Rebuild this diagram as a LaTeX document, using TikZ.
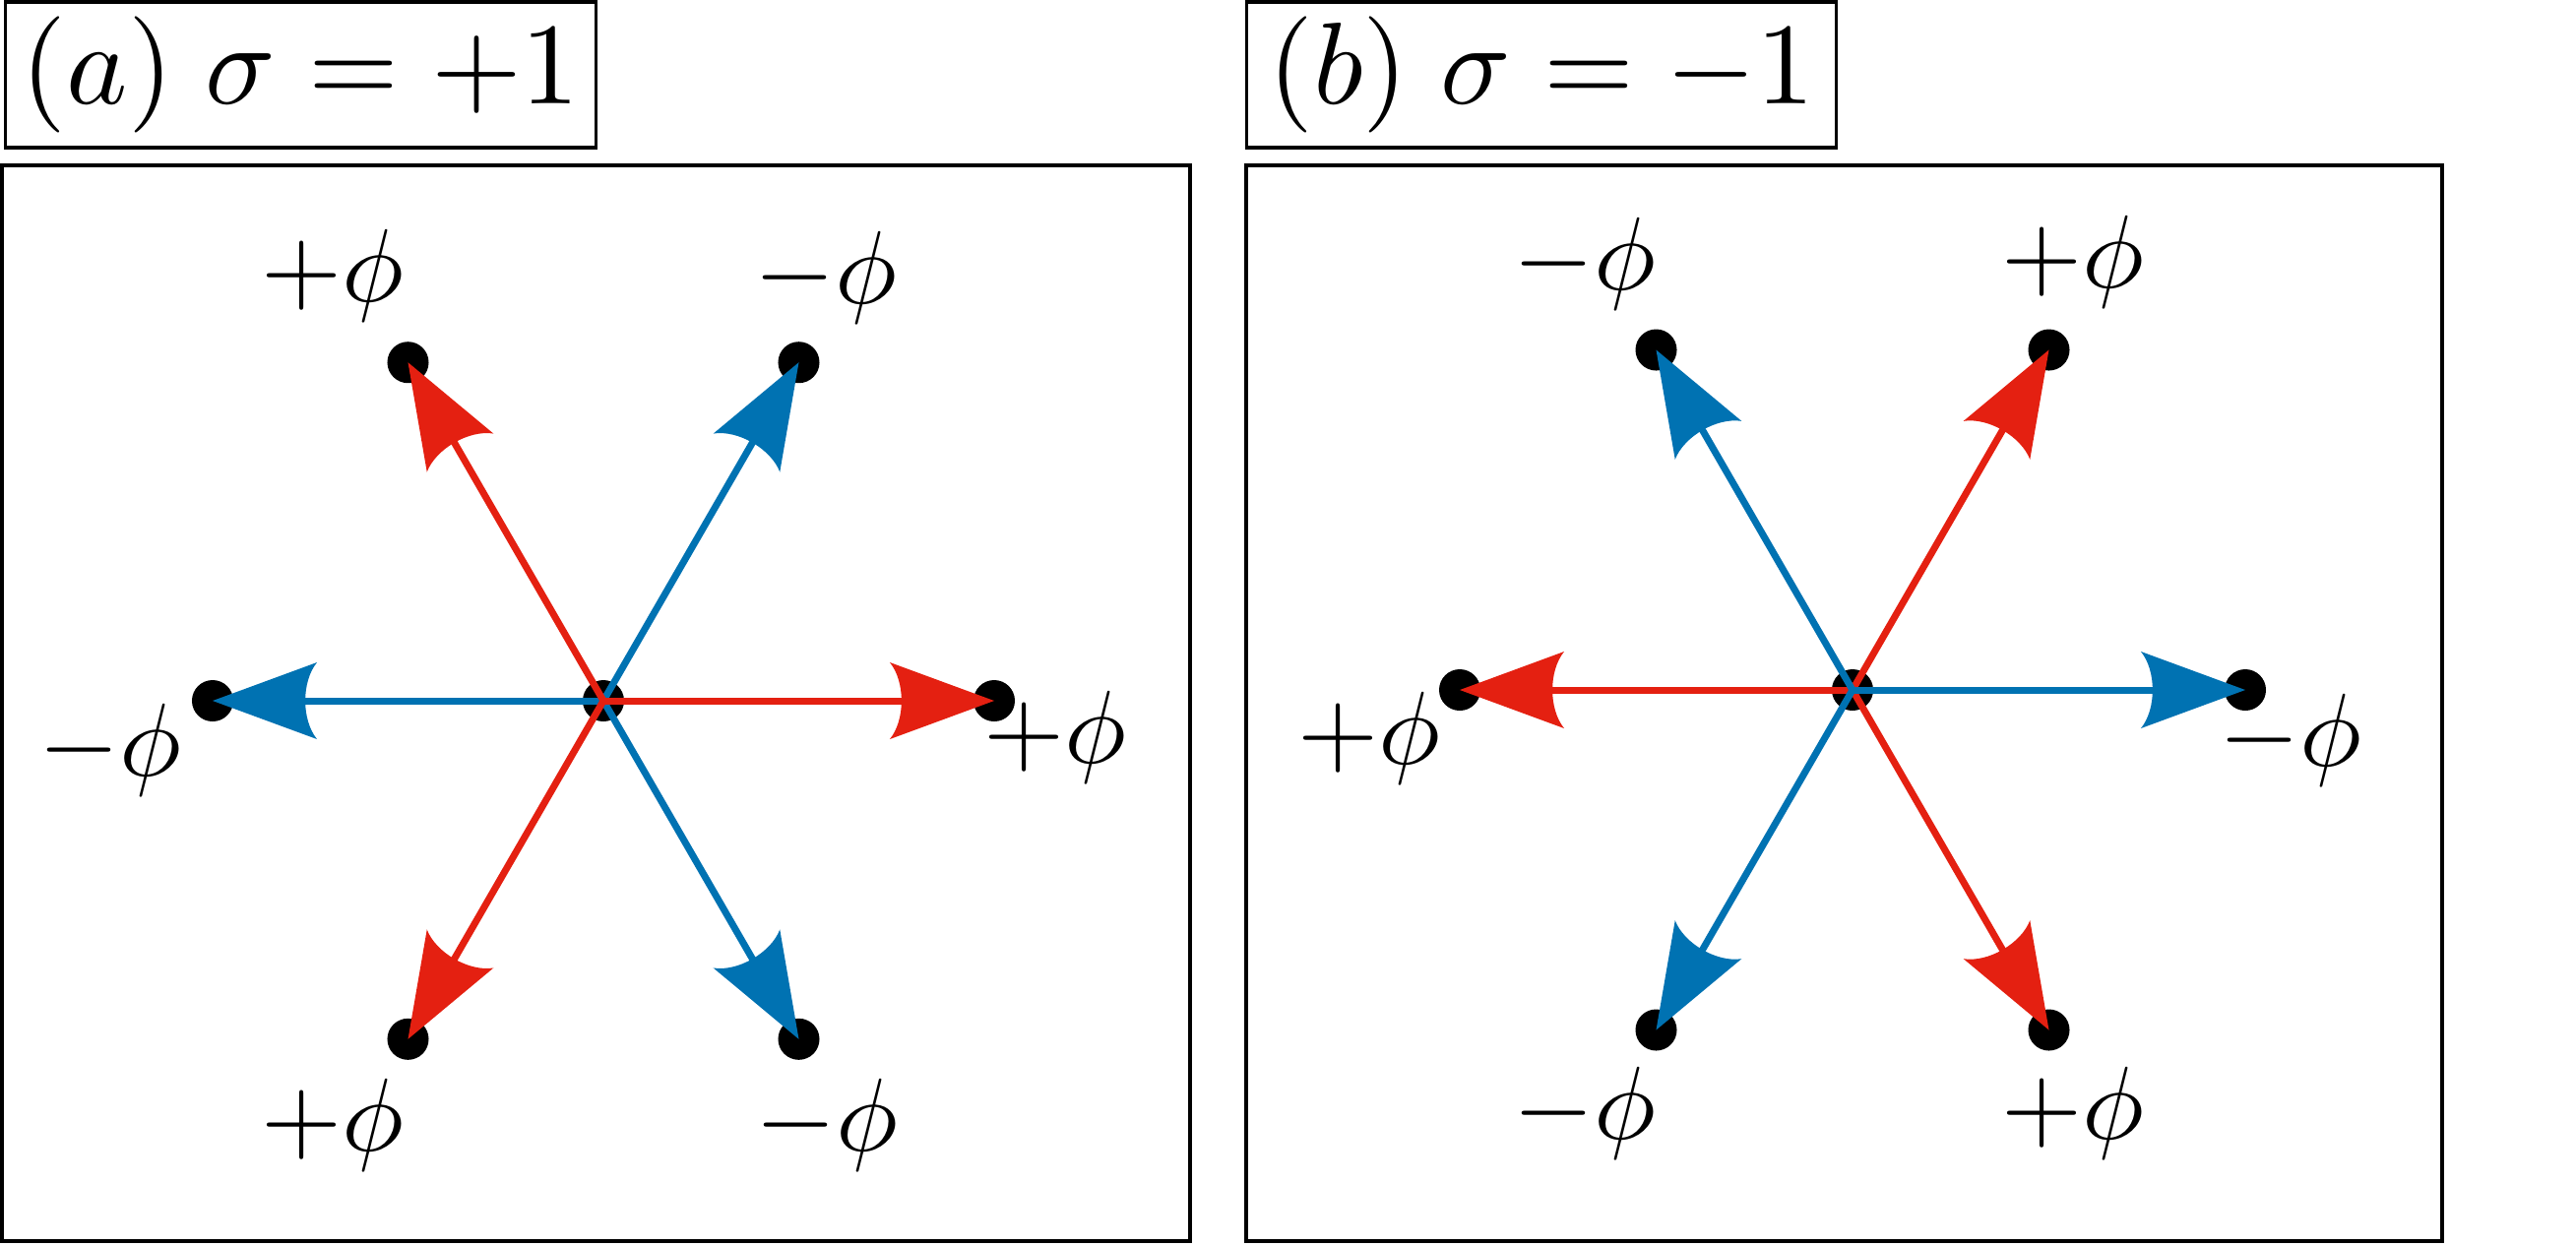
\documentclass[tikz,border=0pt]{standalone}
\usetikzlibrary{arrows.meta}
\definecolor{myred}{RGB}{228,32,17}
\definecolor{myblue}{RGB}{0,114,178}
\pgfdeclarearrow{
  name = Fin,
  parameters = {\the\pgfarrowlength,\the\pgfarrowwidth},
  setup code = {
    \pgfarrowssettipend{0pt}
    \pgfarrowssetlineend{-0.85\pgfarrowlength}
    \pgfarrowssetbackend{-\pgfarrowlength}
    \pgfarrowshullpoint{0pt}{0pt}
    \pgfarrowshullpoint{-\pgfarrowlength}{.5\pgfarrowwidth}
    \pgfarrowshullpoint{-\pgfarrowlength}{-.5\pgfarrowwidth}
    \pgfarrowssavethe\pgfarrowlength
    \pgfarrowssavethe\pgfarrowwidth
  },
  drawing code = {
    \pgfpathmoveto{\pgfqpoint{0pt}{0pt}}
    \pgfpathlineto{\pgfqpoint{-\pgfarrowlength}{.5\pgfarrowwidth}}
    \pgfpathcurveto{\pgfqpoint{-.85\pgfarrowlength}{.25\pgfarrowwidth}}{\pgfqpoint{-.85\pgfarrowlength}{-.25\pgfarrowwidth}}{\pgfqpoint{-\pgfarrowlength}{-.5\pgfarrowwidth}}
    \pgfpathclose
    \pgfusepathqfill
  },
  defaults = {length = 3mm, width = 2mm}
}
\tikzset{
  blob/.style={circle, fill=black, inner sep=0pt, minimum size=0.42cm},
  vecarrow/.style={line width=0.07cm, -{Fin[length=1.06cm,width=0.78cm]}},
  posarrow/.style={vecarrow, color=myred},
  negarrow/.style={vecarrow, color=myblue},
  lab/.style={inner sep=0pt, scale=3.0},
  ttl/.style={draw, line width=0.9pt, scale=3.36, minimum width=1.783cm, minimum height=0.4405cm, inner sep=0pt},
  panelframe/.style={draw, line width=0.9pt}
}
\begin{document}
\begin{tikzpicture}[x=0.01cm, y=-0.01cm]
\useasboundingbox (0,0) rectangle (2617,1265);
% titles
\node[ttl] (ta) at (305.5,76) {$(a)\;\sigma=+1$};
\node[ttl] (tb) at (1566,76) {$(b)\;\sigma=-1$};
% frames
\draw[panelframe] (2,168) rectangle (1209,1261);
\draw[panelframe] (1266,168) rectangle (2481,1261);
% ---------------- panel a
\node[blob] (ac) at (613,712) {};
\node[blob] (atl) at (414.5,368.2) {};
\node[blob] (atr) at (811.5,368.2) {};
\node[blob] (al) at (216,712) {};
\node[blob] (ar) at (1010,712) {};
\node[blob] (abl) at (414.5,1055.8) {};
\node[blob] (abr) at (811.5,1055.8) {};
\draw[negarrow] (ac.center) -- (al.center);
\draw[negarrow] (ac.center) -- (atr.center);
\draw[negarrow] (ac.center) -- (abr.center);
\draw[posarrow] (ac.center) -- (ar.center);
\draw[posarrow] (ac.center) -- (atl.center);
\draw[posarrow] (ac.center) -- (abl.center);
\node[lab] (latl) at (338,280) {$+\phi$};
\node[lab] (latr) at (839,282) {$-\phi$};
\node[lab] (lal) at (112,762) {$-\phi$};
\node[lab] (lar) at (1072,749) {$+\phi$};
\node[lab] (labl) at (338,1143) {$+\phi$};
\node[lab] (labr) at (840,1143) {$-\phi$};
% ---------------- panel b
\node[blob] (bc) at (1882,701) {};
\node[blob] (btl) at (1682.5,355.5) {};
\node[blob] (btr) at (2081.5,355.5) {};
\node[blob] (bl) at (1483,701) {};
\node[blob] (br) at (2281,701) {};
\node[blob] (bbl) at (1682.5,1046.5) {};
\node[blob] (bbr) at (2081.5,1046.5) {};
\draw[posarrow] (bc.center) -- (bl.center);
\draw[posarrow] (bc.center) -- (btr.center);
\draw[posarrow] (bc.center) -- (bbr.center);
\draw[negarrow] (bc.center) -- (br.center);
\draw[negarrow] (bc.center) -- (btl.center);
\draw[negarrow] (bc.center) -- (bbl.center);
\node[lab] (lbtl) at (1610,268) {$-\phi$};
\node[lab] (lbtr) at (2106,266) {$+\phi$};
\node[lab] (lbl) at (1391,750) {$+\phi$};
\node[lab] (lbr) at (2327,752) {$-\phi$};
\node[lab] (lbbl) at (1610,1131) {$-\phi$};
\node[lab] (lbbr) at (2106,1131) {$+\phi$};
\end{tikzpicture}
\end{document}
